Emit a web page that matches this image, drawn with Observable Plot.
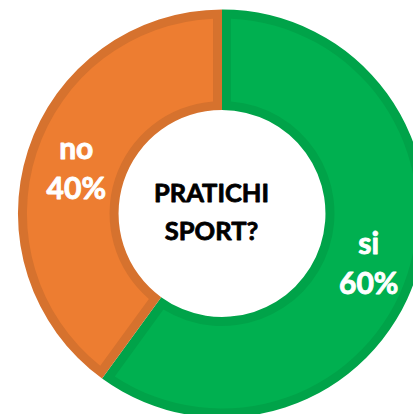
<!DOCTYPE html>
<html><head><meta charset="utf-8">
<script src="https://cdn.jsdelivr.net/npm/d3@7"></script>
<script src="https://cdn.jsdelivr.net/npm/@observablehq/plot@0.6"></script>
<style>html,body{margin:0;padding:0;background:#fff;overflow:hidden}</style>
</head><body><div id="chart"></div>
<script>
const categories = ["si", "no"];
const values = [60, 40];
const percentLabels = ["60%", "40%"];
const centerTitle = ["PRATICHI", "SPORT?"];
const fills = ["#00B050", "#ED7D31"];
const borders = ["#00A349", "#D6722E"];

const INNER = 0.507;
const pie = d3.pie().sort(null).value(d => d.value);
const slices = pie(categories.map((c, i) => ({category: c, value: values[i], label: percentLabels[i]})));
const labelArc = d3.arc().innerRadius(INNER).outerRadius(1);
const labels = slices.map(s => {
  const [x, y] = labelArc.centroid(s);
  return {x, y: -y, text: s.data.category + "\n" + s.data.label};
});

const donut = (index, scales) => {
  const {x, y} = scales;
  const cx = x(0), cy = y(0), R = x(1) - x(0);
  const bw = 9;
  const g = d3.create("svg:g").attr("transform", `translate(${cx},${cy})`);
  const outer = d3.arc().innerRadius(R * INNER).outerRadius(R);
  const pr = R * 0.75;
  const inner = d3.arc().innerRadius(R * INNER + bw).outerRadius(R - bw).padRadius(pr).padAngle(2 * bw / pr);
  g.selectAll("path.b").data(slices).join("path").attr("class", "b").attr("d", outer).attr("fill", (d, i) => borders[i]);
  g.selectAll("path.f").data(slices).join("path").attr("class", "f").attr("d", inner).attr("fill", (d, i) => fills[i]);
  return g.node();
};

const chart = Plot.plot({
  width: 413,
  height: 414,
  margin: 0,
  style: {background: "white"},
  x: {domain: [-1.088, 0.936], range: [0, 413], axis: null},
  y: {domain: [-0.983, 1.0466], range: [414, 0], axis: null},
  marks: [
    donut,
    Plot.text(labels, {x: "x", y: "y", text: "text", fill: "white", stroke: "white", strokeWidth: 0.9, fontSize: 30, fontWeight: "bold", fontFamily: "Lato", lineHeight: 1.33}),
    Plot.text([{x: 0, y: 0, text: centerTitle.join("\n")}], {x: "x", y: "y", text: "text", fill: "black", stroke: "black", strokeWidth: 0.8, fontSize: 25.5, fontWeight: "bold", fontFamily: "Lato", lineHeight: 1.5, dx: -11, dy: -5})
  ]
});
document.getElementById("chart").appendChild(chart);
</script>
</body></html>
